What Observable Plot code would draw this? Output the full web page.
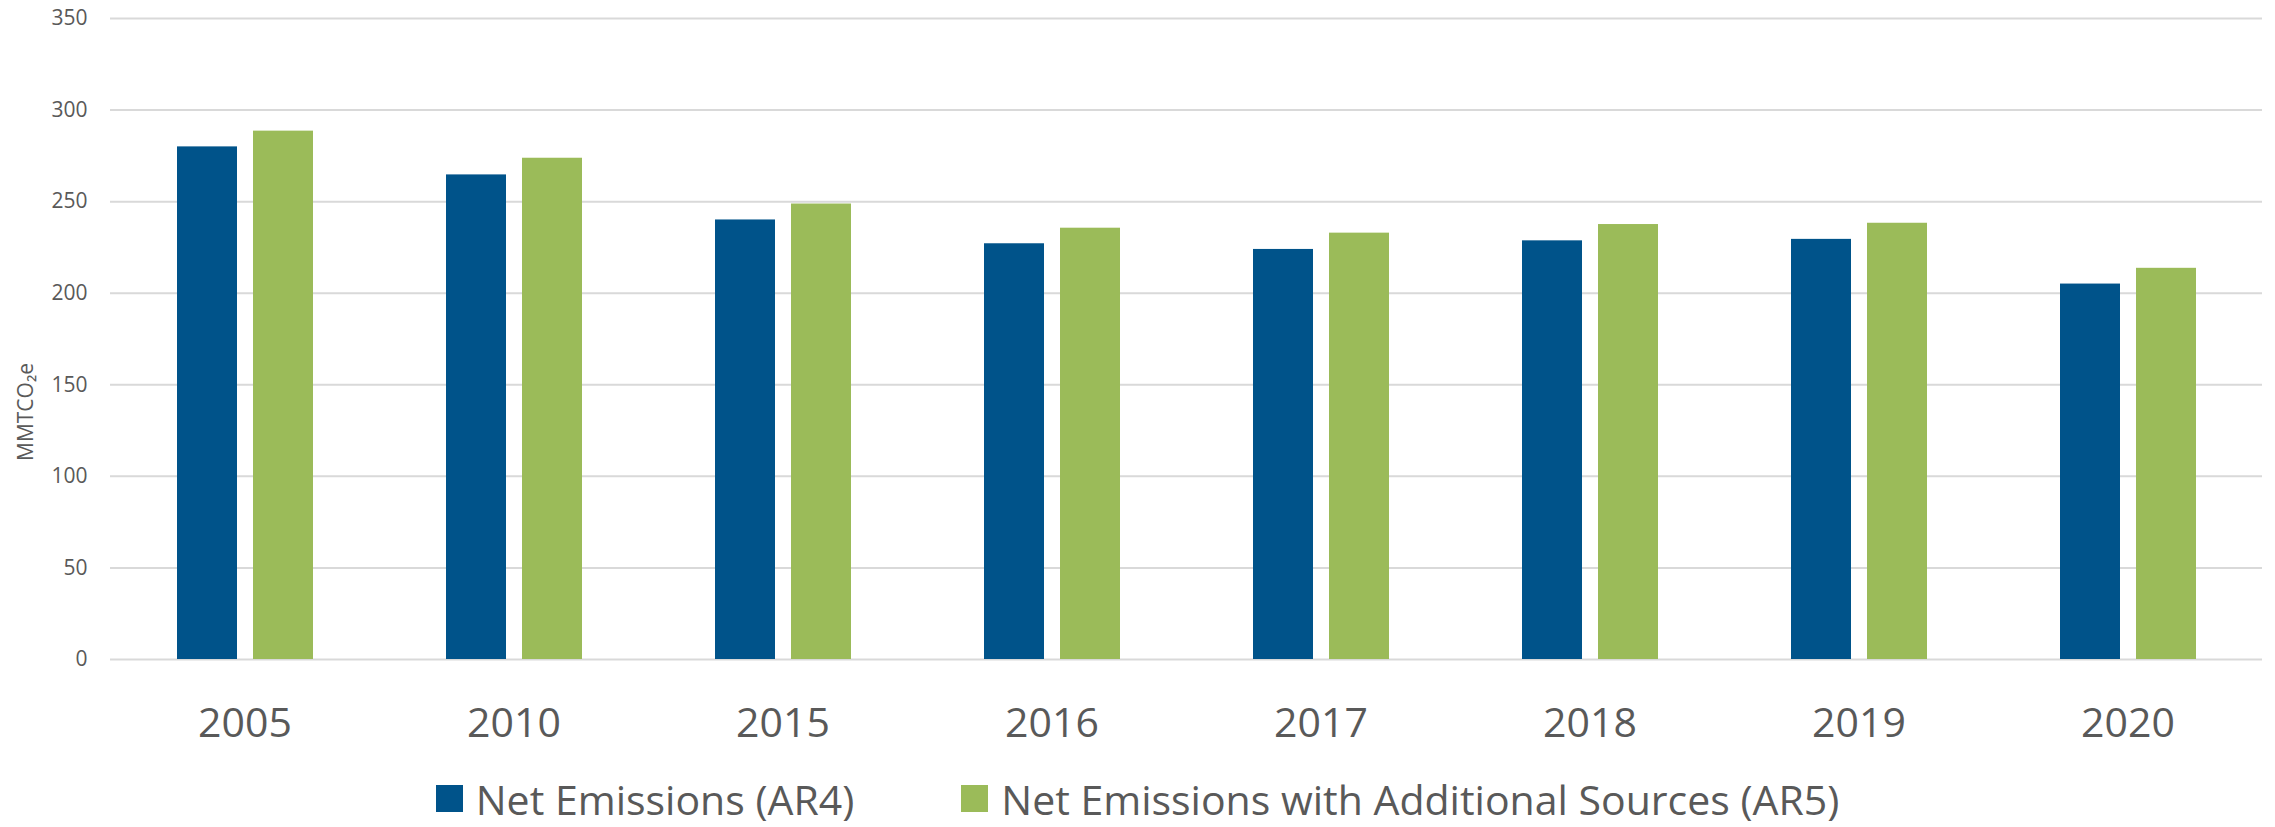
<!DOCTYPE html>
<html>
<head>
<meta charset="utf-8">
<script src="https://cdn.jsdelivr.net/npm/d3@7"></script>
<script src="https://cdn.jsdelivr.net/npm/@observablehq/plot@0.6"></script>
<style>
  html, body { margin: 0; padding: 0; background: #fff; }
  #wrap { position: relative; width: 2275px; height: 827px; font-family: "Open Sans", sans-serif; color: #595959; }
  #ylabel { position: absolute; left: 25px; top: 412px; transform: translate(-50%, -50%) rotate(-90deg); font-size: 21px; white-space: nowrap; }
  #legend { display: flex; justify-content: center; align-items: center; height: 57px; font-size: 41px; }
  .item { display: flex; align-items: center; }
  .sw { width: 27px; height: 27px; margin-right: 13px; }
  .gap { width: 107px; }
</style>
</head>
<body>
<div id="wrap">
  <div id="chart"></div>
  <div id="ylabel">MMTCO₂e</div>
  <div id="legend"></div>
</div>
<script>
const years = ["2005", "2010", "2015", "2016", "2017", "2018", "2019", "2020"];
const ar4 = [279.9, 264.6, 240.0, 227.0, 223.9, 228.6, 229.4, 205.0];
const ar5 = [288.5, 273.7, 248.7, 235.5, 232.8, 237.5, 238.2, 213.6];
const seriesNames = ["Net Emissions (AR4)", "Net Emissions with Additional Sources (AR5)"];
const seriesColors = ["#00538A", "#9BBB59"];
const yTicks = [0, 50, 100, 150, 200, 250, 300, 350];

const data = [];
years.forEach((y, i) => {
  data.push({year: y, series: seriesNames[0], value: ar4[i]});
  data.push({year: y, series: seriesNames[1], value: ar5[i]});
});

const chart = Plot.plot({
  width: 2275,
  height: 770,
  marginLeft: 110,
  marginRight: 13,
  marginTop: 18,
  marginBottom: 111,
  style: {fontFamily: "Open Sans, sans-serif", color: "#595959", background: "#fff"},
  fx: {domain: years, padding: 0, label: null},
  x: {domain: seriesNames, axis: null, paddingInner: 0.213, paddingOuter: 0.858},
  y: {domain: [0, 350], ticks: yTicks, label: null, axis: null},
  color: {domain: seriesNames, range: seriesColors},
  marks: [
    Plot.gridY(yTicks, {stroke: "#d9d9d9", strokeOpacity: 1, strokeWidth: 2}),
    Plot.axisY(yTicks, {tickSize: 0, tickPadding: 23, fontSize: 21, label: null, fill: "#595959"}),
    Plot.axisFx({anchor: "bottom", tickSize: 0, tickPadding: 48, fontSize: 41, label: null, fill: "#595959"}),
    Plot.barY(data, {fx: "year", x: "series", y: "value", fill: "series"})
  ]
});
document.getElementById("chart").appendChild(chart);

const legend = document.getElementById("legend");
seriesNames.forEach((name, i) => {
  if (i > 0) { const g = document.createElement("div"); g.className = "gap"; legend.appendChild(g); }
  const item = document.createElement("div");
  item.className = "item";
  const sw = document.createElement("div");
  sw.className = "sw";
  sw.style.background = seriesColors[i];
  const t = document.createElement("span");
  t.textContent = name;
  item.appendChild(sw);
  item.appendChild(t);
  legend.appendChild(item);
});
</script>
</body>
</html>
